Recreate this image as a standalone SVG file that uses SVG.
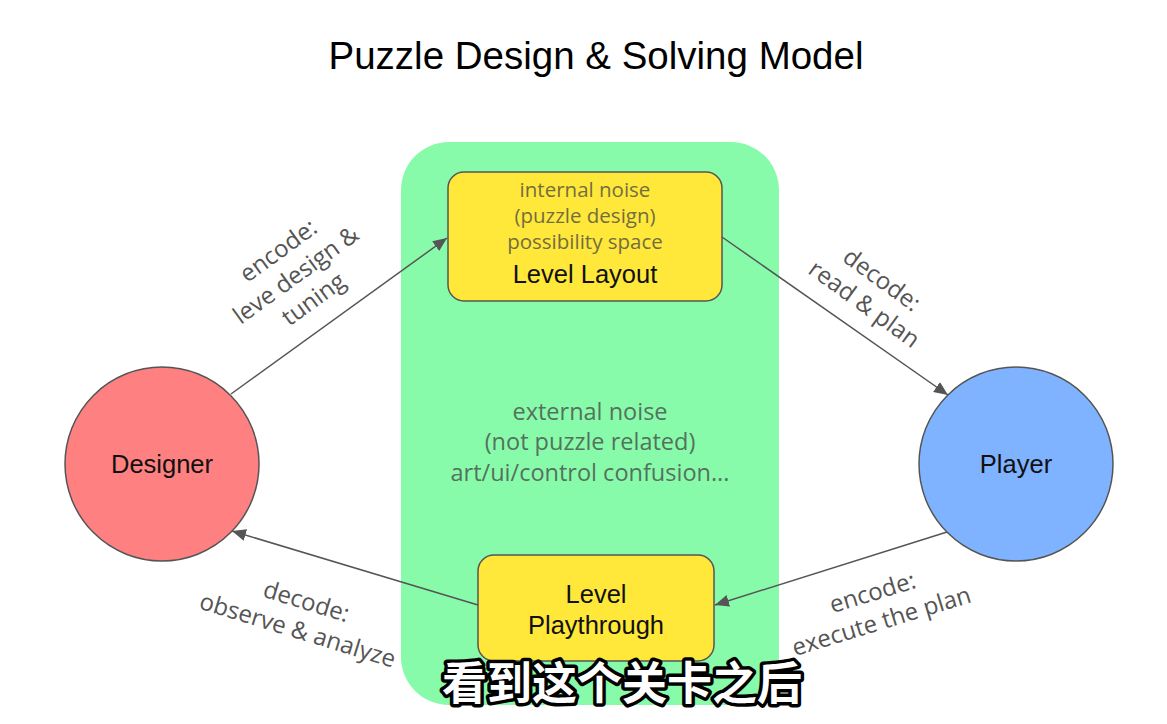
<svg xmlns="http://www.w3.org/2000/svg" width="1167" height="724" viewBox="0 0 1167 724">
<defs>
<marker id="ah" viewBox="0 0 14 12" refX="14" refY="6" markerWidth="14" markerHeight="12" markerUnits="userSpaceOnUse" orient="auto">
<path d="M0,0 L14,6 L0,12 z" fill="#555"/>
</marker>
<style>
.title{font-family:"Liberation Sans",Arial,sans-serif;font-size:38.5px;fill:#000;text-anchor:middle}
.node{font-family:"Liberation Sans",Arial,sans-serif;font-size:25.5px;fill:#111;text-anchor:middle}
.soft{font-family:"Open Sans","Noto Sans",sans-serif;font-size:20.5px;fill:#444;opacity:0.75;text-anchor:middle}
.ext{font-family:"Open Sans","Noto Sans",sans-serif;font-size:23.5px;fill:#444;opacity:0.75;text-anchor:middle}
.lbl{font-family:"Open Sans","Noto Sans",sans-serif;font-size:24px;fill:#555;text-anchor:middle}
.conn{stroke:#555;stroke-width:1.5;fill:none;marker-end:url(#ah)}
.sub{font-family:"Noto Sans CJK SC","Noto Sans",sans-serif;font-size:45px;font-weight:bold;fill:#fff;stroke:#000;stroke-width:7;stroke-linejoin:round;paint-order:stroke;text-anchor:middle}
</style>
</defs>
<rect width="1167" height="724" fill="#fff"/>
<text class="title" x="596" y="69">Puzzle Design &amp; Solving Model</text>

<g id="noise-zone">
<rect x="401" y="142" width="378" height="563" rx="48" fill="#88fbab"/>
<text class="ext" x="590" y="420">external noise</text>
<text class="ext" x="590" y="450">(not puzzle related)</text>
<text class="ext" x="590" y="481">art/ui/control confusion...</text>
</g>

<g id="level-layout">
<rect x="448" y="172" width="274" height="129" rx="16" fill="#ffe83a" stroke="#555" stroke-width="1.5"/>
<text class="soft" x="585" y="197">internal noise</text>
<text class="soft" x="585" y="223">(puzzle design)</text>
<text class="soft" x="585" y="249">possibility space</text>
<text class="node" x="585" y="283">Level Layout</text>
</g>

<g id="level-playthrough">
<rect x="478" y="555" width="236" height="106" rx="16" fill="#ffe83a" stroke="#555" stroke-width="1.5"/>
<text class="node" x="596" y="603">Level</text>
<text class="node" x="596" y="634">Playthrough</text>
</g>

<g id="designer">
<circle cx="162" cy="464" r="97" fill="#ff8080" stroke="#555" stroke-width="1.5"/>
<text class="node" x="162" y="473">Designer</text>
</g>

<g id="player">
<circle cx="1016" cy="464" r="97" fill="#80b3ff" stroke="#555" stroke-width="1.5"/>
<text class="node" x="1016" y="473">Player</text>
</g>

<g id="connectors">
<line class="conn" x1="231" y1="394" x2="447" y2="238"/>
<line class="conn" x1="722" y1="237" x2="948" y2="395"/>
<line class="conn" x1="947" y1="532" x2="715" y2="605"/>
<line class="conn" x1="478" y1="605" x2="232" y2="531"/>
</g>

<g id="labels">
<g transform="translate(296,275) rotate(-36)">
<text class="lbl" x="0" y="-22">encode:</text>
<text class="lbl" x="0" y="8">leve design &amp;</text>
<text class="lbl" x="0" y="38">tuning</text>
</g>
<g transform="translate(873,292) rotate(36)">
<text class="lbl" x="0" y="-7">decode:</text>
<text class="lbl" x="0" y="23">read &amp; plan</text>
</g>
<g transform="translate(302,616) rotate(17)">
<text class="lbl" x="0" y="-7">decode:</text>
<text class="lbl" x="0" y="23">observe &amp; analyze</text>
</g>
<g transform="translate(877,607) rotate(-17)">
<text class="lbl" x="0" y="-7">encode:</text>
<text class="lbl" x="0" y="23">execute the plan</text>
</g>
</g>

<text class="sub" x="622" y="700">看到这个关卡之后</text>
</svg>
